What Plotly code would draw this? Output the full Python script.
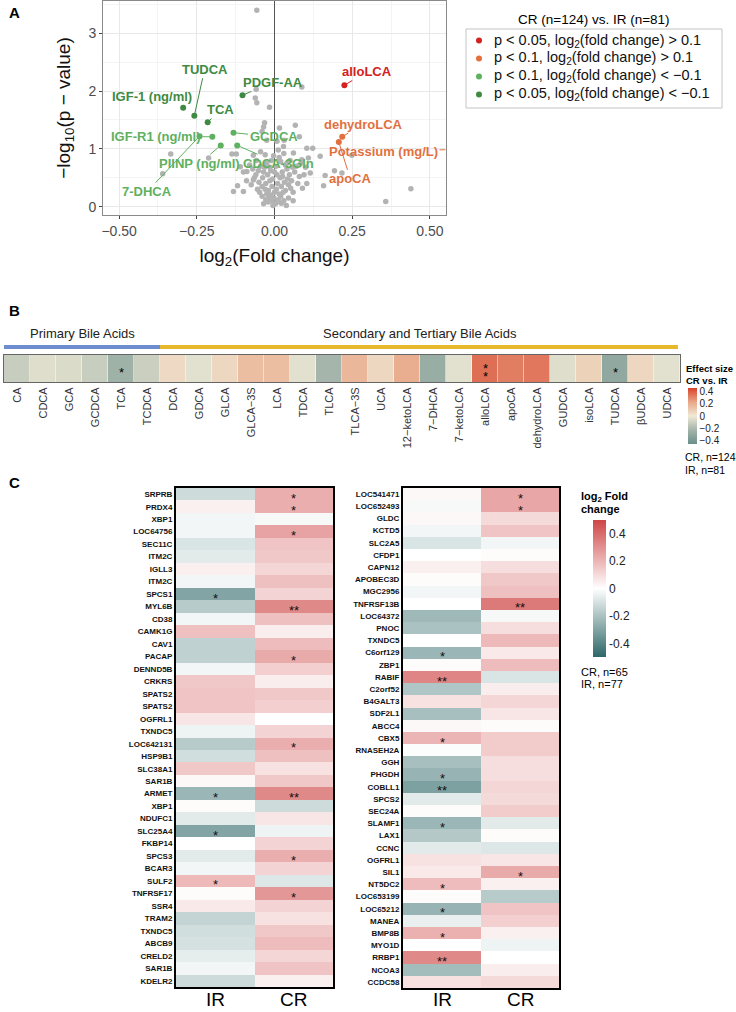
import plotly.graph_objects as go

W, H = 736, 1012
FONT = "Liberation Sans, Arial, sans-serif"


def px(x):
    return x / W


def py(y):
    return 1 - y / H


# ---------------- Panel A data ----------------
gray_pts = [(-0.057, 3.40), (-0.059, 2.03), (0.088, 2.07), (-0.062, 1.88), (-0.057, 1.80),
            (-0.016, 1.72), (-0.032, 1.45), (-0.035, 1.38), (0.016, 1.36), (0.067, 1.41),
            (0.080, 1.21), (-0.025, 1.15), (0.008, 1.13), (0.031, 1.15), (0.123, 1.01),
            (0.104, 1.01), (-0.334, 0.91), (-0.360, 0.57), (-0.212, 0.84), (-0.137, 0.91),
            (-0.123, 0.91), (-0.068, 0.89), (-0.110, 0.69), (-0.089, 0.61), (-0.068, 0.46),
            (-0.119, 0.36), (-0.132, 0.26), (-0.100, 0.26), (0.061, 0.93), (0.088, 0.81),
            (0.109, 0.84), (0.115, 0.58), (0.104, 0.40), (0.163, 0.54), (0.158, 0.36),
            (0.193, 0.62), (0.217, 0.58), (0.249, 0.89), (0.439, 0.31), (0.358, 0.09),
            (0.147, 0.87), (0.029, 1.04), (0.040, 0.75), (-0.040, 1.30), (0.012, 0.98),
            (-0.005, 0.02), (0.003, 0.05), (-0.010, 0.10), (0.012, 0.12), (-0.018, 0.15),
            (0.020, 0.18), (-0.025, 0.22), (0.028, 0.25), (-0.030, 0.30), (0.035, 0.28),
            (-0.008, 0.35), (0.010, 0.40), (-0.040, 0.35), (0.045, 0.38), (-0.015, 0.45),
            (0.018, 0.50), (-0.050, 0.42), (0.055, 0.45), (-0.022, 0.55), (0.025, 0.60),
            (-0.035, 0.60), (0.040, 0.65), (-0.045, 0.70), (0.005, 0.70), (-0.010, 0.80),
            (0.015, 0.85), (-0.030, 0.90), (0.030, 0.92), (-0.060, 0.55), (0.065, 0.60),
            (-0.070, 0.65), (0.070, 0.70), (-0.055, 0.30), (0.060, 0.25), (-0.040, 0.18),
            (0.045, 0.15), (-0.020, 0.08), (0.022, 0.06), (-0.065, 0.50), (0.080, 0.52),
            (-0.080, 0.72), (0.085, 0.75), (0.050, 0.80), (-0.045, 0.95), (0.000, 0.25),
            (-0.012, 0.62), (0.032, 0.42), (-0.028, 0.40), (0.008, 0.55), (0.048, 0.55),
            (-0.058, 0.80), (0.075, 0.40), (-0.075, 0.38), (0.090, 0.32), (-0.090, 0.45),
            (0.038, 0.02), (-0.035, 0.05), (0.060, 0.10), (0.095, 0.55), (-0.100, 0.60),
            (0.100, 0.68), (-0.002, 0.15), (0.006, 0.30), (-0.020, 0.28), (0.015, 0.22),
            (-0.006, 0.48), (0.022, 0.35), (-0.028, 0.12), (0.030, 0.10), (-0.048, 0.25),
            (0.052, 0.32), (-0.015, 0.68), (0.035, 0.72), (0.000, 0.60), (-0.038, 0.50),
            (-0.003, 0.88), (0.020, 0.78), (-0.025, 0.75), (0.042, 0.48), (-0.052, 0.62),
            (0.058, 0.68), (-0.012, 0.20), (0.008, 0.08), (-0.032, 0.68), (0.026, 0.52)]
gray_x = [p[0] for p in gray_pts]
gray_y = [p[1] for p in gray_pts]

up05_names = ["alloLCA"]
up05_x = [0.225]
up05_y = [2.10]

up10_names = ["dehydroLCA", "apoCA", "Potassium (mg/L)"]
up10_x = [0.218, 0.207, 0.620]
up10_y = [1.21, 1.12, 0.985]

dn10_names = ["IGF-R1 (ng/ml)", "GCDCA", "PIINP (ng/ml)", "CDCA-3Gln", "7-DHCA"]
dn10_x = [-0.200, -0.132, -0.173, -0.120, -0.241]
dn10_y = [1.21, 1.28, 1.06, 1.06, 1.22]

dn05_names = ["IGF-1 (ng/ml)", "TUDCA", "TCA", "PDGF-AA"]
dn05_x = [-0.294, -0.258, -0.215, -0.103]
dn05_y = [1.71, 1.575, 1.46, 1.93]

legend_labels = [
    "p &lt; 0.05, log<sub>2</sub>(fold change) &gt; 0.1",
    "p &lt; 0.1, log<sub>2</sub>(fold change) &gt; 0.1",
    "p &lt; 0.1, log<sub>2</sub>(fold change) &lt; \u22120.1",
    "p &lt; 0.05, log<sub>2</sub>(fold change) &lt; \u22120.1",
]
group_colors = ["#d42020", "#e2703e", "#5fb060", "#3f8a42"]

# label placement (layout, data coords of text centre)
label_pos = {
    "alloLCA": (0.297, 2.34), "dehydroLCA": (0.286, 1.43), "apoCA": (0.244, 0.48),
    "Potassium (mg/L)": (0.351, 0.96), "IGF-R1 (ng/ml)": (-0.381, 1.21),
    "GCDCA": (-0.003, 1.21), "PIINP (ng/ml)": (-0.241, 0.75), "CDCA-3Gln": (0.013, 0.75),
    "7-DHCA": (-0.41, 0.26), "IGF-1 (ng/ml)": (-0.395, 1.90), "TUDCA": (-0.225, 2.38),
    "TCA": (-0.173, 1.68), "PDGF-AA": (-0.005, 2.15),
}
no_leader = {"IGF-1 (ng/ml)"}

# ---------------- Panel B data ----------------
ba_names = ["CA", "CDCA", "GCA", "GCDCA", "TCA", "TCDCA", "DCA", "GDCA", "GLCA", "GLCA\u22123S",
            "LCA", "TDCA", "TLCA", "TLCA\u22123S", "UCA", "12\u2212ketoLCA", "7\u2212DHCA",
            "7\u2212ketoLCA", "alloLCA", "apoCA", "dehydroLCA", "GUDCA", "isoLCA", "TUDCA",
            "\u03b2UDCA", "UDCA"]
ba_effect = [-0.12, -0.05, -0.06, -0.12, -0.24, -0.11, 0.05, -0.04, 0.06, 0.15,
             0.15, -0.04, -0.22, 0.17, 0.06, 0.20, -0.27, -0.04, 0.35, 0.32,
             0.33, -0.05, 0.08, -0.30, 0.06, -0.04]
ba_sig = ["", "", "", "", "*", "", "", "", "", "", "", "", "", "", "", "", "", "",
          "**", "", "", "", "", "*", "", ""]
ba_group_names = ["Primary Bile Acids", "Secondary and Tertiary Bile Acids"]
ba_group_sizes = [6, 20]
ba_group_colors = ["#6d8dd0", "#e8b82c"]

# ---------------- Panel C data ----------------
genes_left = ["SRPRB", "PRDX4", "XBP1", "LOC64756", "SEC11C", "ITM2C", "IGLL3", "ITM2C", "SPCS1",
              "MYL6B", "CD38", "CAMK1G", "CAV1", "PACAP", "DENND5B", "CRKRS", "SPATS2", "SPATS2",
              "OGFRL1", "TXNDC5", "LOC642131", "HSP9B1", "SLC38A1", "SAR1B", "ARMET", "XBP1",
              "NDUFC1", "SLC25A4", "FKBP14", "SPCS3", "BCAR3", "SULF2", "TNFRSF17", "SSR4",
              "TRAM2", "TXNDC5", "ABCB9", "CRELD2", "SAR1B", "KDELR2"]
ir_left = [-0.12, 0.04, -0.03, -0.03, -0.09, -0.07, 0.04, -0.03, -0.30, -0.17,
           -0.03, 0.17, -0.15, -0.15, -0.03, 0.15, 0.16, 0.16, 0.07, -0.04,
           -0.17, -0.11, 0.15, 0.02, -0.24, 0.01, -0.07, -0.30, 0.00, -0.07,
           -0.03, 0.19, 0.01, 0.06, -0.14, -0.11, -0.10, -0.06, -0.03, -0.12]
cr_left = [0.22, 0.22, -0.02, 0.25, 0.16, 0.15, 0.11, 0.17, 0.12, 0.32,
           0.17, 0.05, 0.18, 0.23, 0.13, 0.05, 0.15, 0.13, 0.00, 0.12,
           0.22, 0.17, 0.08, 0.15, 0.32, -0.12, 0.07, -0.04, 0.12, 0.22,
           0.12, -0.08, 0.28, 0.12, 0.08, 0.15, 0.18, 0.11, 0.16, 0.04]
ir_left_sig = ["", "", "", "", "", "", "", "", "*", "", "", "", "", "", "", "", "", "", "", "",
               "", "", "", "", "*", "", "", "*", "", "", "", "*", "", "", "", "", "", "", "", ""]
cr_left_sig = ["*", "*", "", "*", "", "", "", "", "", "**", "", "", "", "*", "", "", "", "", "", "",
               "*", "", "", "", "**", "", "", "", "", "*", "", "", "*", "", "", "", "", "", "", ""]

genes_right = ["LOC541471", "LOC652493", "GLDC", "KCTD5", "SLC2A5", "CFDP1", "CAPN12", "APOBEC3D",
               "MGC2956", "TNFRSF13B", "LOC64372", "PNOC", "TXNDC5", "C6orf129", "ZBP1", "RABIF",
               "C2orf52", "B4GALT3", "SDF2L1", "ABCC4", "CBX5", "RNASEH2A", "GGH", "PHGDH",
               "COBLL1", "SPCS2", "SEC24A", "SLAMF1", "LAX1", "CCNC", "OGFRL1", "SIL1", "NT5DC2",
               "LOC653199", "LOC65212", "MANEA", "BMP8B", "MYO1D", "RRBP1", "NCOA3", "CCDC58"]
ir_right = [0.02, -0.02, 0.02, -0.03, -0.09, 0.00, 0.04, 0.01, -0.03, 0.00,
            -0.23, -0.20, 0.00, -0.24, 0.01, 0.33, -0.19, 0.08, -0.21, 0.02,
            0.20, -0.01, -0.21, -0.25, -0.31, -0.07, 0.01, -0.24, -0.18, -0.07,
            0.08, 0.06, 0.18, 0.01, -0.25, -0.05, 0.21, 0.00, 0.32, -0.22, 0.08]
cr_right = [0.24, 0.24, 0.10, 0.16, -0.03, 0.01, 0.09, 0.15, 0.17, 0.36,
            -0.02, 0.09, 0.19, 0.06, 0.18, -0.09, 0.05, 0.11, 0.07, 0.01,
            0.14, 0.14, 0.09, 0.09, 0.11, 0.10, 0.14, -0.07, 0.01, -0.08,
            0.07, 0.23, 0.04, -0.17, 0.16, 0.13, 0.04, -0.04, 0.00, 0.05, 0.10]
ir_right_sig = ["", "", "", "", "", "", "", "", "", "", "", "", "", "*", "", "**", "", "", "", "",
                "*", "", "", "*", "**", "", "", "*", "", "", "", "", "*", "", "*", "", "*", "", "**",
                "", ""]
cr_right_sig = ["*", "*", "", "", "", "", "", "", "", "**", "", "", "", "", "", "", "", "", "", "",
                "", "", "", "", "", "", "", "", "", "", "", "*", "", "", "", "", "", "", "", "", ""]
conditions = ["IR", "CR"]

# ---------------- Figure ----------------
fig = go.Figure()
annotations = []
shapes = []

# Panel A
fig.add_trace(go.Scatter(x=gray_x, y=gray_y, mode="markers", xaxis="x", yaxis="y",
                         marker=dict(color="#b3b3b3", size=5.5), showlegend=False,
                         hoverinfo="skip"))
groups = [(up05_names, up05_x, up05_y), (up10_names, up10_x, up10_y),
          (dn10_names, dn10_x, dn10_y), (dn05_names, dn05_x, dn05_y)]
for (names, xs, ys), col, lab in zip(groups, group_colors, legend_labels):
    fig.add_trace(go.Scatter(x=xs, y=ys, mode="markers", xaxis="x", yaxis="y", name=lab,
                             marker=dict(color=col, size=6), text=names, showlegend=False))
    for n, xv, yv in zip(names, xs, ys):
        lx, ly = label_pos[n]
        tx = min(xv, 0.55)
        a = dict(text="<b>%s</b>" % n, xref="x", yref="y",
                 font=dict(family=FONT, size=13, color=col))
        if n in no_leader:
            a.update(x=lx, y=ly, showarrow=False)
        else:
            a.update(x=tx, y=yv, ax=lx, ay=ly, axref="x", ayref="y", showarrow=True,
                     arrowhead=0, arrowwidth=1, arrowcolor=col, standoff=0)
        annotations.append(a)

# custom legend box (layout)
LEG_X0, LEG_X1, LEG_Y0, LEG_Y1 = 466, 722, 29, 108
LEG_ROW0, LEG_DY = 40.5, 18
shapes.append(dict(type="rect", xref="paper", yref="paper", x0=px(LEG_X0), x1=px(LEG_X1),
                   y0=py(LEG_Y1), y1=py(LEG_Y0), line=dict(color="#c4c4c4", width=1),
                   fillcolor="white", layer="above"))
for i, (col, lab) in enumerate(zip(group_colors, legend_labels)):
    yc = LEG_ROW0 + i * LEG_DY
    shapes.append(dict(type="circle", xref="paper", yref="paper", x0=px(476), x1=px(482),
                       y0=py(yc + 3), y1=py(yc - 3), fillcolor=col, line=dict(width=0),
                       layer="above"))
    annotations.append(dict(text=lab, x=px(492), y=py(yc), xref="paper", yref="paper",
                            showarrow=False, xanchor="left", yanchor="middle",
                            font=dict(family=FONT, size=14.5, color="#111")))

# Panel B heatmap
b_scale = [[0, "#6b8f8a"], [0.25, "#a3b4aa"], [0.5, "#f0e9d6"], [0.75, "#e8a787"], [1, "#d8432c"]]
fig.add_trace(go.Heatmap(z=[ba_effect], x=list(range(len(ba_names))), y=[0], xaxis="x2",
                         yaxis="y2", colorscale=b_scale, zmin=-0.45, zmax=0.45, xgap=0.5,
                         colorbar=dict(x=px(688), xanchor="left", y=py(388), yanchor="top",
                                       len=56 / H, lenmode="fraction", thickness=9,
                                       xpad=0, ypad=0, outlinewidth=0,
                                       tickvals=[-0.4, -0.2, 0, 0.2, 0.4],
                                       ticktext=["\u22120.4", "\u22120.2", "0", "0.2", "0.4"],
                                       tickfont=dict(family=FONT, size=10, color="#222"),
                                       ticks="")))
for i, s in enumerate(ba_sig):
    if s:
        n = len(s)
        for k in range(n):
            annotations.append(dict(text="*", x=i, y=0, xref="x2", yref="y2", showarrow=False,
                                    font=dict(family=FONT, size=13, color="black"),
                                    yshift=-4 + (n - 1) * 4 - k * 8))

# Panel C heatmaps
c_scale = [[0, "#2e6767"], [0.5, "#ffffff"], [1, "#cf4646"]]
for (genes, ir, cr, irs, crs, xa, ya, show) in [
        (genes_left, ir_left, cr_left, ir_left_sig, cr_left_sig, "x3", "y3", True),
        (genes_right, ir_right, cr_right, ir_right_sig, cr_right_sig, "x4", "y4", False)]:
    z = [[a, b] for a, b in zip(ir, cr)]
    fig.add_trace(go.Heatmap(z=z, x=[0, 1], y=list(range(len(genes))), xaxis=xa, yaxis=ya,
                             colorscale=c_scale, zmin=-0.5, zmax=0.5, showscale=show,
                             colorbar=dict(x=px(593), xanchor="left", y=py(520), yanchor="top",
                                           len=137 / H, lenmode="fraction", thickness=13,
                                           xpad=0, ypad=0, outlinewidth=0,
                                           tickvals=[-0.4, -0.2, 0, 0.2, 0.4],
                                           ticktext=["-0.4", "-0.2", "0", "0.2", "0.4"],
                                           tickfont=dict(family=FONT, size=12, color="#222"),
                                           ticks="")))
    for col, sigs in enumerate([irs, crs]):
        for r, s in enumerate(sigs):
            if s:
                annotations.append(dict(text=s, x=col, y=r, xref=xa, yref=ya, showarrow=False,
                                        font=dict(family=FONT, size=13, color="#111"), yshift=-4))
    for col, cname in enumerate(conditions):
        annotations.append(dict(text=cname, x=col, y=py(999), xref=xa, yref="paper",
                                showarrow=False, xanchor="center", yanchor="middle",
                                font=dict(family=FONT, size=19, color="black")))

# Text annotations (paper)


def ann(text, x, y, size, bold=False, xanchor="left", color="black"):
    return dict(text=("<b>%s</b>" % text) if bold else text, x=px(x), y=py(y), xref="paper",
                yref="paper", showarrow=False, xanchor=xanchor, yanchor="middle",
                font=dict(family=FONT, size=size, color=color))


annotations += [
    ann("A", 7, 12, 15, True),
    ann("B", 7, 310, 15, True),
    ann("C", 7, 482, 15, True),
    ann("CR (n=124) vs. IR (n=81)", 594, 19, 13.5, xanchor="center"),
    ann("Effect size", 684, 368, 9.5, True),
    ann("CR vs. IR", 684, 380, 9.5, True),
    ann("CR, n=124", 683, 457, 10.5),
    ann("IR, n=81", 683, 470, 10.5),
    ann("log<sub>2</sub> Fold", 579, 497, 11, True),
    ann("change", 579, 509, 11, True),
    ann("CR, n=65", 579, 672, 11),
    ann("IR, n=77", 579, 684, 11),
]

# group headers and bars for B
start = -0.5
for gname, gsize, gcol in zip(ba_group_names, ba_group_sizes, ba_group_colors):
    end = start + gsize
    shapes.append(dict(type="line", xref="x2", yref="paper", x0=start, x1=end - (0.08 if end > 25 else 0),
                       y0=py(347), y1=py(347), line=dict(color=gcol, width=4)))
    annotations.append(dict(text=gname, x=(start + end) / 2, y=py(333), xref="x2", yref="paper",
                            showarrow=False, xanchor="center", yanchor="middle",
                            font=dict(family=FONT, size=13, color="#222")))
    start = end

grid = "#e8e8e8"
fig.update_layout(
    width=W, height=H, margin=dict(l=0, r=0, t=0, b=0),
    paper_bgcolor="white", plot_bgcolor="white",
    font=dict(family=FONT, color="#222"),
    showlegend=False,
    xaxis=dict(domain=[px(103), px(446)], range=[-0.552, 0.552], anchor="y",
               tickvals=[-0.5, -0.25, 0, 0.25, 0.5], tickformat=".2f",
               showgrid=True, gridcolor=grid, minor=dict(showgrid=True, gridcolor="#f4f4f4",
                                                         tickvals=[-0.375, -0.125, 0.125, 0.375]),
               zeroline=True, zerolinecolor="#555", zerolinewidth=1,
               showline=True, mirror=True, linecolor="#8a8a8a", linewidth=1,
               ticks="outside", ticklen=3, tickcolor="#444",
               tickfont=dict(family=FONT, size=14, color="#4d4d4d"),
               title=dict(text="log<sub>2</sub>(Fold change)", standoff=10,
                          font=dict(family=FONT, size=19, color="#111")),
               automargin=False),
    yaxis=dict(domain=[py(215), py(1)], range=[-0.145, 3.56], anchor="x",
               tickvals=[0, 1, 2, 3], showgrid=True, gridcolor=grid,
               minor=dict(showgrid=True, gridcolor="#f4f4f4", tickvals=[0.5, 1.5, 2.5, 3.5]),
               zeroline=False, showline=True, mirror=True, linecolor="#8a8a8a", linewidth=1,
               ticks="outside", ticklen=3, tickcolor="#444",
               tickfont=dict(family=FONT, size=14, color="#4d4d4d"),
               title=dict(text="\u2212log<sub>10</sub>(p \u2212 value)", standoff=12,
                          font=dict(family=FONT, size=19, color="#111")),
               automargin=False),
    xaxis2=dict(domain=[px(4), px(680)], range=[-0.5, len(ba_names) - 0.5], anchor="y2",
                tickvals=list(range(len(ba_names))), ticktext=ba_names, tickangle=-90,
                tickfont=dict(family=FONT, size=11, color="#333"), ticks="",
                showline=True, mirror=True, linecolor="#666", linewidth=1, showgrid=False,
                zeroline=False, automargin=False),
    yaxis2=dict(domain=[py(382), py(355)], range=[-0.5, 0.5], anchor="x2", showticklabels=False,
                ticks="", showline=True, mirror=True, linecolor="#666", linewidth=1,
                showgrid=False, zeroline=False, automargin=False),
    xaxis3=dict(domain=[px(176), px(333)], range=[-0.5, 1.5], anchor="y3",
                showticklabels=False, ticks="",
                showline=True, mirror=True, linecolor="black", linewidth=2, showgrid=False,
                zeroline=False, automargin=False),
    yaxis3=dict(domain=[py(987), py(488)], range=[len(genes_left) - 0.5, -0.5], anchor="x3",
                tickvals=list(range(len(genes_left))), ticktext=genes_left, ticks="",
                tickfont=dict(family=FONT, size=8, color="#111", weight="bold"),
                showline=True, mirror=True, linecolor="black", linewidth=2, showgrid=False,
                zeroline=False, automargin=False),
    xaxis4=dict(domain=[px(403), px(559)], range=[-0.5, 1.5], anchor="y4",
                showticklabels=False, ticks="",
                showline=True, mirror=True, linecolor="black", linewidth=2, showgrid=False,
                zeroline=False, automargin=False),
    yaxis4=dict(domain=[py(988), py(488)], range=[len(genes_right) - 0.5, -0.5], anchor="x4",
                tickvals=list(range(len(genes_right))), ticktext=genes_right, ticks="",
                tickfont=dict(family=FONT, size=8, color="#111", weight="bold"),
                showline=True, mirror=True, linecolor="black", linewidth=2, showgrid=False,
                zeroline=False, automargin=False),
    annotations=annotations,
    shapes=shapes,
)

fig.write_html("out.html", config={"displayModeBar": False},
               post_script="document.body.style.margin='0px';")
